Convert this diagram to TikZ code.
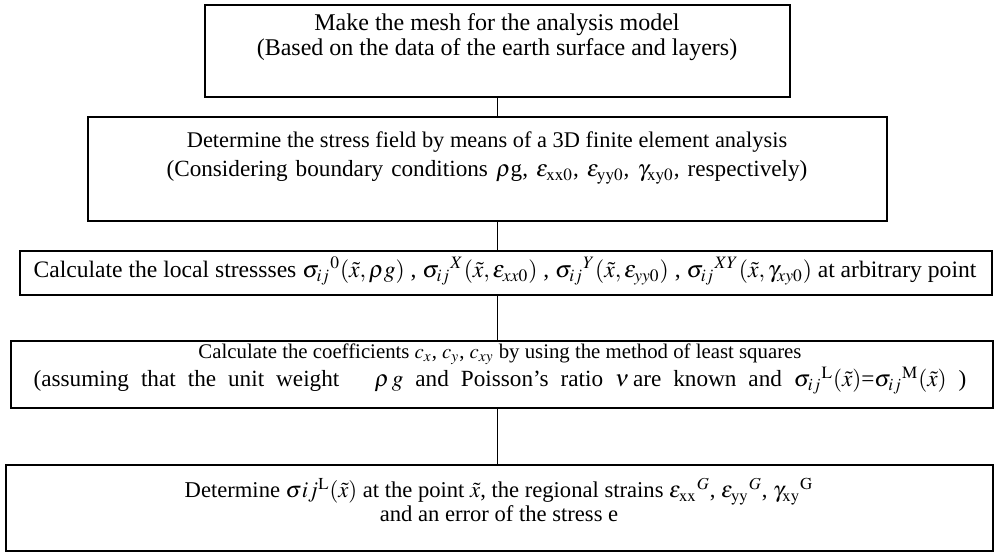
\documentclass[tikz,border=0pt]{standalone}
\usepackage{amsmath}
\usepackage{mathptmx}
\usepackage{fontspec}
\setmainfont{Liberation Serif}
\usetikzlibrary{positioning}

\tikzset{
    stepbox/.style={draw, line width=0.8pt, inner sep=0pt},
    steptext/.style={align=center, inner sep=0pt},
}

\begin{document}
\begin{tikzpicture}[x=0.5pt, y=-0.5pt]
    \useasboundingbox (0,0) rectangle (995,554);
    % boxes
    \node[stepbox, minimum width=292.5pt, minimum height=46pt] (mesh) at (497.5,51) {};
    \node[stepbox, minimum width=399.5pt, minimum height=52pt] (field) at (487.5,169) {};
    \node[stepbox, minimum width=486pt, minimum height=22pt] (local) at (506,273) {};
    \node[stepbox, minimum width=491pt, minimum height=33.5pt] (coef) at (502,374.5) {};
    \node[stepbox, minimum width=493.5pt, minimum height=43pt] (result) at (499.5,508) {};
    % texts
    \node[steptext, font=\fontsize{12}{12.5}\selectfont] (meshtxt) at (497,37)
        {Make the mesh for the analysis model\\
         (Based on the data of the earth surface and layers)};
    \node[steptext, font=\fontsize{11.2}{14.5}\selectfont] (fieldtxt) at (487,158)
        {Determine the stress field by means of a 3D finite element analysis\\
         \fontsize{11.6}{14.5}\selectfont\spaceskip=4pt plus 1pt\relax
         (Considering boundary conditions $\rho$g, $\varepsilon_{\mathrm{xx0}}$, $\varepsilon_{\mathrm{yy0}}$, $\gamma_{\mathrm{xy0}}$, respectively)};
    \node[steptext, font=\fontsize{11.8}{12}\selectfont] (localtxt) at (505,271)
        {Calculate the local stressses $\sigma_{ij}{}^{0}(\tilde{x},\rho g)$ , $\sigma_{ij}{}^{X}(\tilde{x},\varepsilon_{xx0})$ , $\sigma_{ij}{}^{Y}(\tilde{x},\varepsilon_{yy0})$ , $\sigma_{ij}{}^{XY}(\tilde{x},\gamma_{xy0})$ at arbitrary point};
    \node[steptext, font=\fontsize{10.4}{11.5}\selectfont] (coeftxt) at (500,369)
        {Calculate the coefficients $c_{x}$, $c_{y}$, $c_{xy}$ by using the method of least squares\\
         \fontsize{11.6}{11.5}\selectfont\spaceskip=6pt plus 1pt\relax
         (assuming that the unit weight \quad $\rho\, g$ and Poisson's ratio $\nu$\,are known and $\sigma_{ij}{}^{\mathrm{L}}(\tilde{x})$=$\sigma_{ij}{}^{\mathrm{M}}(\tilde{x})$ )};
    \node[steptext, font=\fontsize{11.3}{11.8}\selectfont] (resulttxt) at (499,500)
        {Determine $\sigma ij^{\mathrm{L}}(\tilde{x})$ at the point $\tilde{x}$, the regional strains $\varepsilon_{\mathrm{xx}}{}^{G}$, $\varepsilon_{\mathrm{yy}}{}^{G}$, $\gamma_{\mathrm{xy}}{}^{\mathrm{G}}$\\
         and an error of the stress e};
    % connectors
    \draw[line width=0.8pt] (mesh.south) -- (mesh.south |- field.north);
    \draw[line width=0.8pt] (mesh.south |- field.south) -- (mesh.south |- local.north);
    \draw[line width=0.8pt] (mesh.south |- local.south) -- (mesh.south |- coef.north);
    \draw[line width=0.8pt] (mesh.south |- coef.south) -- (mesh.south |- result.north);
\end{tikzpicture}
\end{document}
